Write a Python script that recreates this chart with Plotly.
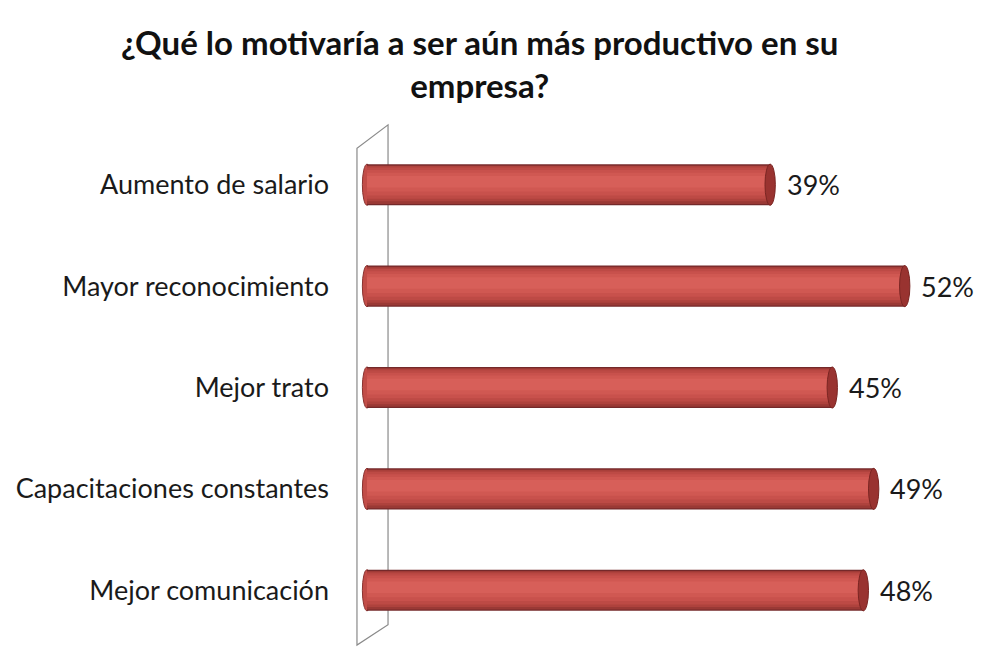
import plotly.graph_objects as go

# Survey answers and share of respondents (%)
categories = [
    "Aumento de salario",
    "Mayor reconocimiento",
    "Mejor trato",
    "Capacitaciones constantes",
    "Mejor comunicación",
]
values = [39, 52, 45, 49, 48]
title_text = "¿Qué lo motivaría a ser aún más productivo en su<br>empresa?"

FONT = "Lato, 'Open Sans', sans-serif"
BAR_W = 0.405

fig = go.Figure()

# Cylinder look: overlaid bars of decreasing thickness, lighter toward the upper middle
layers = [
    (1.00, 0.00, "#74292a"),
    (0.94, 0.00, "#9a3935"),
    (0.86, 0.01, "#ae423d"),
    (0.76, 0.015, "#bd4a45"),
    (0.62, 0.02, "#c8514c"),
    (0.46, 0.025, "#d05852"),
    (0.28, 0.03, "#d75f59"),
]
for frac, shift, c in layers:
    w = BAR_W * frac
    fig.add_trace(go.Bar(
        y=categories, x=values, orientation="h", width=w, offset=-w / 2 - shift,
        marker=dict(color=c, line=dict(width=0)),
        hoverinfo="skip", showlegend=False,
    ))

shapes = []
# Back wall of the 3D plot area
shapes.append(dict(
    type="path", xref="x", yref="paper", layer="below",
    path="M -0.97,-0.008 L -0.97,0.972 L 2.03,1.018 L 2.03,0.032 Z",
    line=dict(color="#8a8a8a", width=1.2), fillcolor="rgba(0,0,0,0)",
))
for i, v in enumerate(values):
    # rounded base of each cylinder
    shapes.append(dict(
        type="circle", xref="x", yref="y", layer="below",
        x0=-0.45, x1=0.45, y0=i - BAR_W / 2, y1=i + BAR_W / 2,
        fillcolor="#c24d48", line=dict(color="#8a3330", width=1),
    ))
    # darker end cap at the far end
    shapes.append(dict(
        type="circle", xref="x", yref="y", layer="above",
        x0=v - 0.55, x1=v + 0.45, y0=i - BAR_W / 2, y1=i + BAR_W / 2,
        fillcolor="#993330", line=dict(color="#7a2522", width=1),
    ))

annotations = []
for cat, v in zip(categories, values):
    annotations.append(dict(
        x=v, y=cat, xref="x", yref="y", text=f"{v}%",
        showarrow=False, xanchor="left", xshift=14,
        font=dict(family=FONT, size=27, color="#1a1a1a"),
    ))

# Two-line chart heading
annotations.append(dict(
    text=f"<b>{title_text}</b>", xref="paper", yref="paper",
    x=0.218, y=1.139, xanchor="center", yanchor="middle", showarrow=False,
    font=dict(family=FONT, size=33, color="#111111"),
))

fig.update_layout(
    width=981, height=648,
    margin=dict(l=340, r=0, t=134, b=7),
    paper_bgcolor="white", plot_bgcolor="white",
    barmode="overlay",
    xaxis=dict(range=[-2.61, 59.32], visible=False, fixedrange=True),
    yaxis=dict(
        autorange=False, range=[4.5, -0.5], type="category",
        showgrid=False, zeroline=False, showline=False, ticks="",
        ticklabelstandoff=10,
        tickfont=dict(family=FONT, size=27, color="#1a1a1a"),
    ),
    shapes=shapes, annotations=annotations,
)

fig.write_html("out.html")
